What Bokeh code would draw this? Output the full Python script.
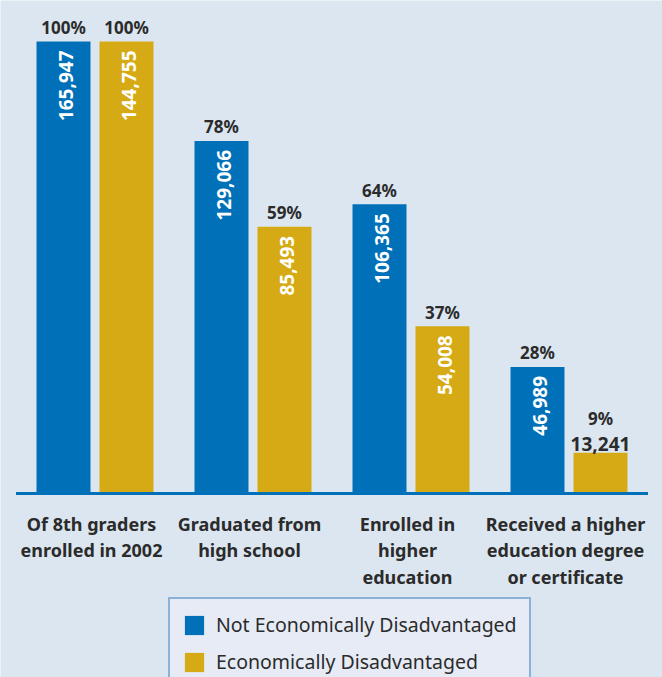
import math
from bokeh.plotting import figure
from bokeh.models import ColumnDataSource, Range1d, Legend, LegendItem
from bokeh.core.properties import value
from bokeh.embed import file_html
from bokeh.resources import INLINE

# ---- data ----
categories = ["Of 8th graders\nenrolled in 2002",
              "Graduated from\nhigh school",
              "Enrolled in\nhigher\neducation",
              "Received a higher\neducation degree\nor certificate"]
series_names = ["Not Economically Disadvantaged", "Economically Disadvantaged"]
not_disadv_counts = [165947, 129066, 106365, 46989]
not_disadv_pct = [100, 78, 64, 28]
disadv_counts = [144755, 85493, 54008, 13241]
disadv_pct = [100, 59, 37, 9]

# ---- style ----
BG = "#dce6f0"
BLUE = "#0070b9"
GOLD = "#d6aa14"
DARK = "#2b2b2b"
FONT = "Noto Sans"

W, H = 662, 677
n = len(categories)
group_px = 158.0
px_per_pct = 4.52
x0_px, base_px, top_px = 94.5, 493.0, 41.0
x_start = -x0_px / group_px
x_end = x_start + W / group_px
y_end = 100 + top_px / px_per_pct
y_start = -(H - base_px) / px_per_pct

bw = 54 / group_px
off = 31.5 / group_px
FIX = -6  # alphabetic baseline compensation

p = figure(width=W, height=H, x_range=Range1d(x_start, x_end), y_range=Range1d(y_start, y_end),
           output_backend="svg", toolbar_location=None, min_border=0,
           x_axis_location=None, y_axis_location=None,
           background_fill_color=BG, border_fill_color=BG, outline_line_color=None)
p.grid.visible = False

series = [(not_disadv_counts, not_disadv_pct, BLUE, -off), (disadv_counts, disadv_pct, GOLD, off)]
renderers = []
for counts, pcts, color, dx in series:
    xs = [i + dx for i in range(n)]
    src = ColumnDataSource(dict(x=xs, top=pcts))
    r = p.vbar(x="x", top="top", bottom=0, width=bw, source=src, fill_color=color, line_color=None)
    renderers.append(r)
    inside = [v >= 20 for v in pcts]
    ins = ColumnDataSource(dict(x=[x for x, k in zip(xs, inside) if k],
                                y=[v for v, k in zip(pcts, inside) if k],
                                t=[f"{c:,}" for c, k in zip(counts, inside) if k]))
    p.text(x="x", y="y", text="t", source=ins, angle=math.pi / 2, text_align="right",
           text_baseline="middle", y_offset=9, x_offset=2, text_color="white",
           text_font=value(FONT), text_font_style="bold", text_font_size="19px")
    outs = ColumnDataSource(dict(x=[x for x, k in zip(xs, inside) if not k],
                                 y=[v for v, k in zip(pcts, inside) if not k],
                                 t=[f"{c:,}" for c, k in zip(counts, inside) if not k]))
    p.text(x="x", y="y", text="t", source=outs, text_align="center",
           text_baseline="alphabetic", y_offset=-2.5 + FIX, text_color=DARK,
           text_font=value(FONT), text_font_style="bold", text_font_size="19px")
    pct_off = [(-8 if k else -28) + FIX for k in inside]
    psrc = ColumnDataSource(dict(x=xs, y=pcts, t=[f"{v}%" for v in pcts], yo=pct_off))
    p.text(x="x", y="y", text="t", source=psrc, text_align="center",
           text_baseline="alphabetic", y_offset="yo", text_color=DARK,
           text_font=value(FONT), text_font_style="bold", text_font_size="17px")

# baseline
p.segment(x0=[-0.5], y0=[0], x1=[n - 0.5], y1=[0], line_color=BLUE, line_width=3)

# category labels
lx, ly, lt, lo = [], [], [], []
for i, c in enumerate(categories):
    for j, line in enumerate(c.split("\n")):
        lx.append(i); ly.append(0); lt.append(line); lo.append(36 + 26.6 * j + FIX)
p.text(x=lx, y=ly, text=lt, y_offset=lo, x_offset=-3.5, text_align="center",
       text_baseline="alphabetic", text_color=DARK, text_font=value(FONT),
       text_font_style="bold", text_font_size="18px")

legend = Legend(items=[LegendItem(label=series_names[0], renderers=[renderers[0]]),
                       LegendItem(label=series_names[1], renderers=[renderers[1]])],
                location=(168, -12), orientation="vertical",
                glyph_width=24, glyph_height=24, label_height=24, spacing=10, padding=12,
                margin=0, label_standoff=10,
                label_text_font=FONT, label_text_font_size="19.5px", label_text_color=DARK,
                background_fill_color="#e6ebf6", background_fill_alpha=1.0,
                border_line_color="#2a7ab8", border_line_width=2)
p.add_layout(legend)

open("out.html", "w").write(file_html(p, INLINE))
